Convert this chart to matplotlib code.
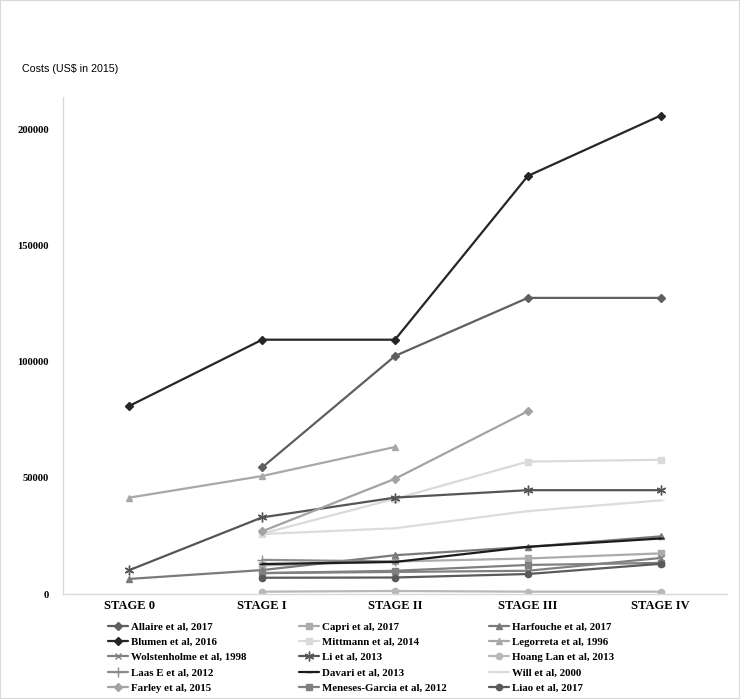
import numpy as np
import matplotlib
matplotlib.use("Agg")
import matplotlib.pyplot as plt
from matplotlib.patches import Rectangle

nan = np.nan
stages = ["STAGE 0", "STAGE I", "STAGE II", "STAGE III", "STAGE IV"]
yticks = [0, 50000, 100000, 150000, 200000]

allaire = [nan, 54500, 102500, 127500, 127500]
capri = [nan, 12300, 14000, 15300, 17500]
harfouche = [6500, 10300, 16700, 20300, 24800]
blumen = [81000, 109500, 109500, 180000, 206000]
mittmann = [nan, 26000, 41000, 57000, 57800]
legorreta = [41500, 50800, 63300, nan, nan]
wolstenholme = [nan, 9000, 9500, 10000, 15500]
li = [10300, 33000, 41500, 44700, 44700]
hoang_lan = [nan, 1000, 1300, 1000, 1000]
laas = [nan, 14700, 14000, nan, nan]
davari = [nan, 12900, 13800, 20300, 23900]
will = [nan, 25800, 28300, 35700, 40300]
farley = [nan, 27000, 49600, 78700, nan]
meneses = [nan, 9000, 10000, 12500, 13400]
liao = [nan, 7000, 7100, 8600, 13000]

series = [
    ("Allaire et al, 2017", allaire, "#5f5f5f", "D", 4),
    ("Capri et al, 2017", capri, "#ababab", "s", 4.5),
    ("Harfouche et al, 2017", harfouche, "#7a7a7a", "^", 5),
    ("Blumen et al, 2016", blumen, "#262626", "D", 4),
    ("Mittmann et al, 2014", mittmann, "#dadada", "s", 4.5),
    ("Legorreta et al, 1996", legorreta, "#a8a8a8", "^", 5),
    ("Wolstenholme et al, 1998", wolstenholme, "#808080", "x", 5),
    ("Li et al, 2013", li, "#555555", (6, 2, 0), 7),
    ("Hoang Lan et al, 2013", hoang_lan, "#b8b8b8", "o", 4.5),
    ("Laas E et al, 2012", laas, "#8c8c8c", "+", 7),
    ("Davari et al, 2013", davari, "#1c1c1c", "_", 4),
    ("Will et al, 2000", will, "#dcdcdc", "_", 4),
    ("Farley et al, 2015", farley, "#a3a3a3", "D", 4),
    ("Meneses-Garcia et al, 2012", meneses, "#808080", "s", 4.5),
    ("Liao et al, 2017", liao, "#5a5a5a", "o", 4.5),
]

fig = plt.figure(figsize=(7.40, 6.99), dpi=100)
ax = fig.add_axes([63/740, 1-594/699, (727-63)/740, (594-97)/699])

x = np.arange(len(stages)) + 0.5
handles = {}
for name, vals, col, mk, ms in series:
    h, = ax.plot(x, vals, color=col, lw=1.6, marker=mk, markersize=ms,
                 markeredgecolor=col, markerfacecolor=col, markeredgewidth=1.0,
                 label=name, solid_capstyle="round")
    handles[name] = h

ax.set_xlim(0, 5)
ax.set_ylim(0, 214000)
ax.set_xticks(x)
ax.set_xticklabels(stages, fontfamily="Liberation Serif", fontweight="bold", fontsize=9)
ax.set_yticks(yticks)
ax.set_yticklabels([str(v) for v in yticks], fontfamily="Liberation Serif",
                   fontweight="bold", fontsize=7.7)
ax.tick_params(axis="both", length=0)
ax.tick_params(axis="x", pad=4)
ax.tick_params(axis="y", pad=10)
for s in ["top", "right"]:
    ax.spines[s].set_visible(False)
for s in ["left", "bottom"]:
    ax.spines[s].set_color("#d9d9d9")
    ax.spines[s].set_linewidth(1.0)

fig.text(22/740, 1-69/699, "Costs (US$ in 2015)", fontfamily="Liberation Sans",
         fontsize=7.7, va="center", ha="left")

columns = [
    ["Allaire et al, 2017", "Blumen et al, 2016", "Wolstenholme et al, 1998", "Laas E et al, 2012", "Farley et al, 2015"],
    ["Capri et al, 2017", "Mittmann et al, 2014", "Li et al, 2013", "Davari et al, 2013", "Meneses-Garcia et al, 2012"],
    ["Harfouche et al, 2017", "Legorreta et al, 1996", "Hoang Lan et al, 2013", "Will et al, 2000", "Liao et al, 2017"],
]
col_x = [108, 299, 489]
for cx, names in zip(col_x, columns):
    leg = fig.legend([handles[n] for n in names], names, ncol=1, loc="upper left",
                     bbox_to_anchor=(cx/740, 1-622/699), frameon=False,
                     prop={"family": "Liberation Serif", "weight": "bold", "size": 7.8},
                     handlelength=1.8, handletextpad=0.3,
                     labelspacing=0.53, borderpad=0, borderaxespad=0)

fig.patches.append(Rectangle((0, 0), 1, 1, transform=fig.transFigure, fill=False,
                             edgecolor="#d9d9d9", linewidth=1.5))

fig.savefig("out.png", dpi=100)
